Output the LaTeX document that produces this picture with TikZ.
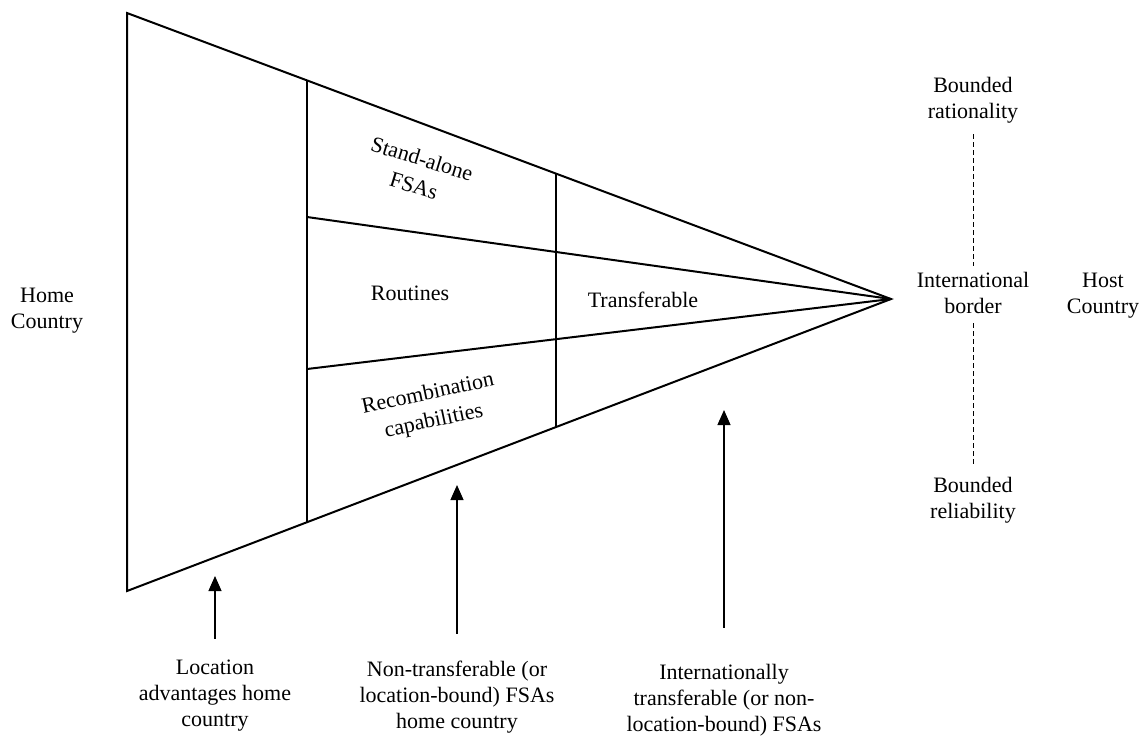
\documentclass[tikz,border=0pt]{standalone}
\usepackage{fontspec}
\setmainfont{Liberation Serif}
\usetikzlibrary{arrows.meta, calc}

\begin{document}
\begin{tikzpicture}[x=0.5pt, y=-0.5pt,
    edge/.style={line width=1pt},
    lbl/.style={align=center, inner sep=0pt, font=\fontsize{11}{13}\selectfont},
    tilted/.style={lbl, font=\fontsize{11}{14}\selectfont},
    pointer/.style={line width=0.6pt, -{Triangle[width=6.5pt,length=7.5pt]}},
    border/.style={line width=0.5pt, dash pattern=on 2.5pt off 1.5pt}]
    \useasboundingbox (0,0) rectangle (1145,736);

    % Funnel outline
    \coordinate (topL) at (127,13);
    \coordinate (botL) at (127,591);
    \coordinate (apex) at (891,299);
    \draw[edge] (apex) -- (topL) -- (botL) -- cycle;

    % Vertical dividers
    \draw[edge] ($(topL)!0.2356!(apex)$) -- ($(botL)!0.2356!(apex)$);
    \draw[edge] ($(topL)!0.5615!(apex)$) -- ($(botL)!0.5615!(apex)$);

    % Inner bands
    \coordinate (bandA) at (307,217);
    \coordinate (bandB) at (307,369);
    \draw[edge] (bandA) -- (apex);
    \draw[edge] (bandB) -- (apex);

    % Labels inside the funnel
    \node[tilted, rotate=-17] (standAlone) at (418,172) {Stand-alone\\FSAs};
    \node[lbl] (routines) at (410,293) {Routines};
    \node[tilted, rotate=12] (recomb) at (431,408) {Recombination\\capabilities};
    \node[lbl] (transf) at (643,300) {Transferable};

    % Home side
    \node[lbl] (home) at (47,311) {Home\\Country};

    % International border
    \node[lbl] (bRat) at (973,100) {Bounded\\rationality};
    \node[lbl] (intl) at (973,293) {International\\border};
    \node[lbl] (bRel) at (973,500) {Bounded\\reliability};
    \node[lbl] (host) at (1103,296) {Host\\Country};
    \draw[border, shorten <=5.5pt, shorten >=3pt] (bRat) -- (intl);
    \draw[border, shorten <=4.5pt, shorten >=5.5pt] (intl) -- (bRel);

    % Bottom labels and arrows
    \node[lbl] (locAdv) at (215,696) {Location\\advantages home\\country};
    \node[lbl] (nonTr) at (457,697) {Non-transferable (or\\location-bound) FSAs\\home country};
    \node[lbl] (intTr) at (724,700) {Internationally\\transferable (or non-\\location-bound) FSAs};
    \coordinate (locTip) at (215,576);
    \coordinate (nonTip) at (457,485);
    \coordinate (intTip) at (724,410);
    \draw[pointer, shorten <=10.5pt] (locAdv) -- (locTip);
    \draw[pointer, shorten <=13.5pt] (nonTr) -- (nonTip);
    \draw[pointer, shorten <=18pt] (intTr) -- (intTip);
\end{tikzpicture}
\end{document}
